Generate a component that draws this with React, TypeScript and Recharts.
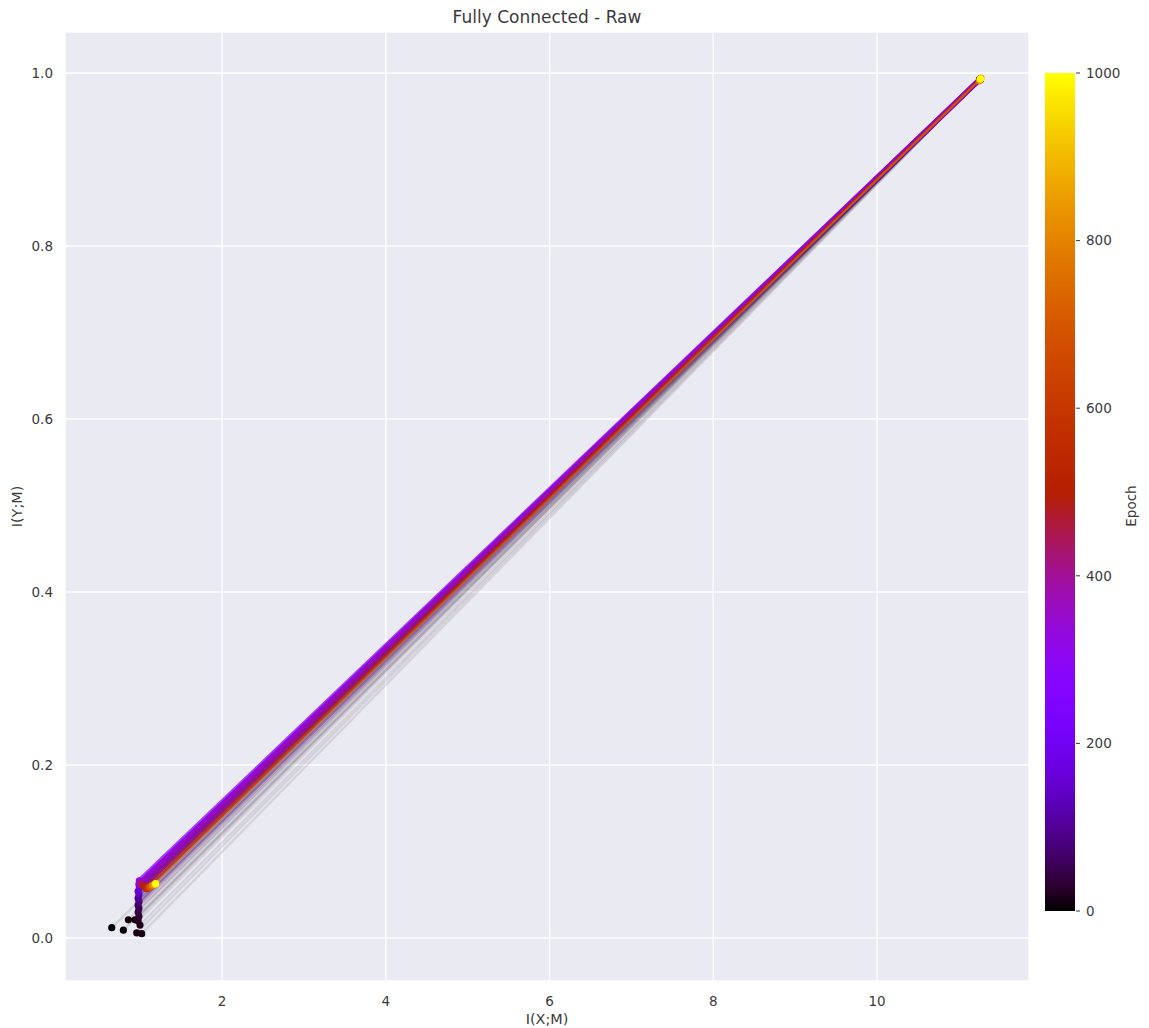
import React from 'react';
import { ComposedChart, Scatter, XAxis, YAxis, CartesianGrid } from 'recharts';

// Epochs sampled along training
const epochs = [0, 2, 4, 6, 8, 10, 15, 20, 30, 40, 50, 60, 80, 100, 120, 150, 180, 220, 260, 300, 350, 400, 450, 500, 550, 600, 700, 800, 900, 1000];
// Hidden-layer point (low end) I(X;M), I(Y;M)
const lowX = [0.653, 0.795, 0.856, 0.937, 0.958, 1.019, 0.998, 0.975, 0.985, 0.975, 0.985, 0.975, 0.985, 0.975, 0.985, 0.975, 0.99, 0.985, 1.0, 0.99, 1.01, 1.0, 1.02, 1.05, 1.08, 1.1, 1.12, 1.15, 1.18, 1.19];
const lowY = [0.012, 0.009, 0.021, 0.021, 0.006, 0.005, 0.015, 0.02, 0.025, 0.03, 0.034, 0.038, 0.042, 0.046, 0.05, 0.054, 0.058, 0.062, 0.064, 0.066, 0.065, 0.063, 0.062, 0.059, 0.057, 0.058, 0.059, 0.061, 0.062, 0.063];
// Input-layer point (high end)
const highX = [11.26, 11.26, 11.26, 11.26, 11.26, 11.26, 11.26, 11.26, 11.26, 11.26, 11.26, 11.26, 11.26, 11.26, 11.26, 11.26, 11.26, 11.26, 11.26, 11.26, 11.26, 11.26, 11.26, 11.26, 11.26, 11.26, 11.255, 11.25, 11.27, 11.262];
const highY = [0.993, 0.993, 0.993, 0.993, 0.993, 0.993, 0.993, 0.993, 0.993, 0.993, 0.993, 0.993, 0.993, 0.993, 0.993, 0.993, 0.993, 0.993, 0.993, 0.993, 0.993, 0.993, 0.993, 0.993, 0.993, 0.993, 0.992, 0.991, 0.994, 0.993];

const xTicks = [2, 4, 6, 8, 10];
const yTicks = [0, 0.2, 0.4, 0.6, 0.8, 1.0];
const cbarTicks = [0, 200, 400, 600, 800, 1000];
const maxEpoch = 1000;

const FONT = '"DejaVu Sans", sans-serif';
const TEXT = '#3a3a3a';

function gnuplot(t: number): string {
  const c = Math.max(0, Math.min(1, t));
  const r = Math.sqrt(c);
  const g = c * c * c;
  const b = Math.max(0, Math.min(1, Math.sin(2 * Math.PI * c)));
  const h = (v: number) => Math.round(v * 255).toString(16).padStart(2, '0');
  return '#' + h(r) + h(g) + h(b);
}

const segments = epochs.map((e, i) => ({
  epoch: e,
  pts: [
    { x: lowX[i], y: lowY[i], epoch: e },
    { x: highX[i], y: highY[i], epoch: e },
  ],
}));
const lowPts = epochs.map((e, i) => ({ x: lowX[i], y: lowY[i], epoch: e }));
const highPts = epochs.map((e, i) => ({ x: highX[i], y: highY[i], epoch: e }));

const lineOpacity = (e: number) =>
  e < 60 ? 0.1 : e < 120 ? 0.3 : e < 150 ? 0.5 : e < 350 ? 0.75 : e < 480 ? 0.3 : e < 650 ? 0.6 : 0.1;
const lineWidth = (e: number) => (e < 60 ? 2.5 : e < 150 ? 4 : e < 350 ? 5 : e < 480 ? 3.5 : e < 650 ? 2.5 : 2);

const Dot = (p: any) => (
  <circle cx={p.cx} cy={p.cy} r={3.6} fill={gnuplot(p.payload.epoch / maxEpoch)} />
);
const NoShape = () => <g />;

// Colorbar geometry
const CB_X = 1045;
const CB_W = 30;
const CB_TOP = 73;
const CB_BOT = 911;
const gradStops = Array.from({ length: 41 }, (_, k) => k / 40);

export default function App() {
  const cbY = (v: number) => CB_BOT - (v / maxEpoch) * (CB_BOT - CB_TOP);
  return (
    <div style={{ position: 'absolute', left: 0, top: 0, width: 1149, height: 1028, background: '#fff' }}>
      <ComposedChart
        width={1149}
        height={1028}
        margin={{ top: 32, right: 120, bottom: 0, left: 0 }}
      >
        <CartesianGrid fill="#EAEAF2" stroke="#ffffff" strokeWidth={1.3} />
        <XAxis
          type="number"
          dataKey="x"
          domain={[0.082, 11.856]}
          ticks={xTicks}
          allowDataOverflow
          axisLine={false}
          tickLine={false}
          tickSize={0}
          tickMargin={15}
          height={47}
          tick={{ fill: TEXT, fontSize: 13.5, fontFamily: FONT }}
        />
        <YAxis
          type="number"
          dataKey="y"
          domain={[-0.0497, 1.0474]}
          ticks={yTicks}
          allowDataOverflow
          axisLine={false}
          tickLine={false}
          tickSize={0}
          tickMargin={12}
          width={65}
          tickFormatter={(v: number) => v.toFixed(1)}
          tick={{ fill: TEXT, fontSize: 13.5, fontFamily: FONT }}
        />
        {segments.map((s) => (
          <Scatter
            key={'l' + s.epoch}
            data={s.pts}
            isAnimationActive={false}
            shape={NoShape}
            line={{
              stroke: gnuplot(s.epoch / maxEpoch),
              strokeWidth: lineWidth(s.epoch),
              strokeOpacity: lineOpacity(s.epoch),
            }}
          />
        ))}
        <Scatter data={lowPts} isAnimationActive={false} shape={Dot} />
        <Scatter data={highPts} isAnimationActive={false} shape={Dot} />
      </ComposedChart>
      <svg
        width={1149}
        height={1028}
        style={{ position: 'absolute', left: 0, top: 0, pointerEvents: 'none' }}
      >
        <defs>
          <linearGradient id="cbgrad" x1="0" y1="1" x2="0" y2="0">
            {gradStops.map((t) => (
              <stop key={t} offset={t} stopColor={gnuplot(t)} />
            ))}
          </linearGradient>
        </defs>
        <text x={547} y={22.5} textAnchor="middle" fontSize={17} fontFamily={FONT} fill={TEXT}>
          Fully Connected - Raw
        </text>
        <text x={547} y={1024} textAnchor="middle" fontSize={14.4} fontFamily={FONT} fill={TEXT}>
          I(X;M)
        </text>
        <text
          x={22}
          y={506.5}
          textAnchor="middle"
          fontSize={14.4}
          fontFamily={FONT}
          fill={TEXT}
          transform="rotate(-90 22 506.5)"
        >
          I(Y;M)
        </text>
        <rect x={CB_X} y={CB_TOP} width={CB_W} height={CB_BOT - CB_TOP} fill="url(#cbgrad)" />
        {cbarTicks.map((v) => (
          <g key={v}>
            <line x1={CB_X + CB_W + 1} x2={CB_X + CB_W + 5} y1={cbY(v)} y2={cbY(v)} stroke={TEXT} strokeWidth={1} />
            <text x={CB_X + CB_W + 11} y={cbY(v)} dy="0.36em" fontSize={13.5} fontFamily={FONT} fill={TEXT}>
              {v}
            </text>
          </g>
        ))}
        <text
          x={1136}
          y={506}
          textAnchor="middle"
          fontSize={13.5}
          fontFamily={FONT}
          fill={TEXT}
          transform="rotate(-90 1136 506)"
        >
          Epoch
        </text>
      </svg>
    </div>
  );
}
